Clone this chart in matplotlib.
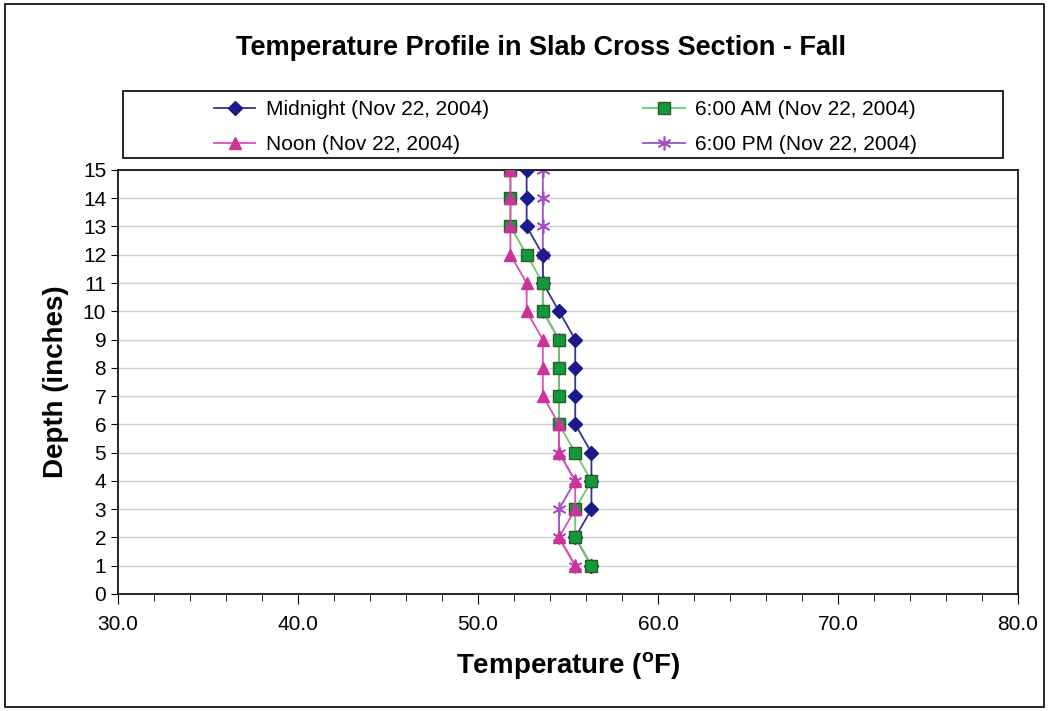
import matplotlib.pyplot as plt
from matplotlib.patches import Rectangle

plt.rcParams['font.family'] = ['Liberation Sans', 'DejaVu Sans']

depth = [15, 14, 13, 12, 11, 10, 9, 8, 7, 6, 5, 4, 3, 2, 1]
midnight = [52.7, 52.7, 52.7, 53.6, 53.6, 54.5, 55.4, 55.4, 55.4, 55.4, 56.3, 56.3, 56.3, 55.4, 56.3]
am6 = [51.8, 51.8, 51.8, 52.7, 53.6, 53.6, 54.5, 54.5, 54.5, 54.5, 55.4, 56.3, 55.4, 55.4, 56.3]
noon = [51.8, 51.8, 51.8, 51.8, 52.7, 52.7, 53.6, 53.6, 53.6, 54.5, 54.5, 55.4, 55.4, 54.5, 55.4]
pm6 = [53.6, 53.6, 53.6, 53.6, 53.6, 53.6, 54.5, 54.5, 54.5, 54.5, 54.5, 55.4, 54.5, 54.5, 55.4]

labels = ['Midnight (Nov 22, 2004)', '6:00 AM (Nov 22, 2004)',
          'Noon (Nov 22, 2004)', '6:00 PM (Nov 22, 2004)']

fig = plt.figure(figsize=(10.49, 7.11), dpi=100)
ax = fig.add_axes([0.1125, 0.1646, 0.858, 0.5964])

# 6 PM underneath, the others stacked like excel draws them
l4, = ax.plot(pm6, depth, color='#9b4fc8', lw=1.3, marker=(6, 2, 0), ms=10,
              mec='#a64dbf', mew=1.2, label=labels[3], zorder=2)
l1, = ax.plot(midnight, depth, color='#333399', lw=1.3, marker='D', ms=7,
              mfc='#1a1a8c', mec='#1a1a8c', label=labels[0], zorder=3)
l2, = ax.plot(am6, depth, color='#66cc66', lw=1.3, marker='s', ms=9,
              mfc='#129a3a', mec='#2d5a2d', label=labels[1], zorder=4)
l3, = ax.plot(noon, depth, color='#d94fb4', lw=1.3, marker='^', ms=9,
              mfc='#cc3399', mec='#cc3399', label=labels[2], zorder=5)

ax.set_xlim(30, 80)
ax.set_ylim(0, 15)
ax.set_xticks([30, 40, 50, 60, 70, 80])
ax.set_xticks(range(30, 81, 2), minor=True)
ax.set_xticklabels(['30.0', '40.0', '50.0', '60.0', '70.0', '80.0'])
ax.set_yticks(range(0, 16))
ax.grid(axis='y', color='#d0d0d0', lw=1)
ax.set_axisbelow(True)
ax.tick_params(axis='x', which='major', direction='out', length=7, labelsize=15, pad=8)
ax.tick_params(axis='x', which='minor', direction='out', length=5)
ax.tick_params(axis='y', direction='out', length=5, labelsize=15)
for s in ax.spines.values():
    s.set_color('black')
    s.set_linewidth(1.2)

ax.set_xlabel('Temperature ($^{\\mathregular{o}}$F)', fontsize=20, fontweight='bold', labelpad=12)
ax.set_ylabel('Depth (inches)', fontsize=20, fontweight='bold', labelpad=10)
fig.text(0.516, 0.933, 'Temperature Profile in Slab Cross Section - Fall',
         ha='center', va='center', fontsize=19.5, fontweight='bold')

# legend box drawn separately so its size matches
fig.patches.append(Rectangle((123 / 1049, 1 - 158 / 711), 880 / 1049, 67 / 711,
                             transform=fig.transFigure, fill=False,
                             edgecolor='black', lw=1.2))
fig.legend([l1, l3, l2, l4], [labels[0], labels[2], labels[1], labels[3]],
           ncol=2, loc='center', bbox_to_anchor=(0.539, 0.821),
           fontsize=15, frameon=False, handlelength=2.0, handletextpad=0.5,
           columnspacing=7.4, labelspacing=0.75)

# outer chart border
fig.patches.append(Rectangle((0.005, 0.005), 0.99, 0.99, transform=fig.transFigure,
                             fill=False, edgecolor='black', lw=1.2))

plt.savefig('out.png', dpi=100)
